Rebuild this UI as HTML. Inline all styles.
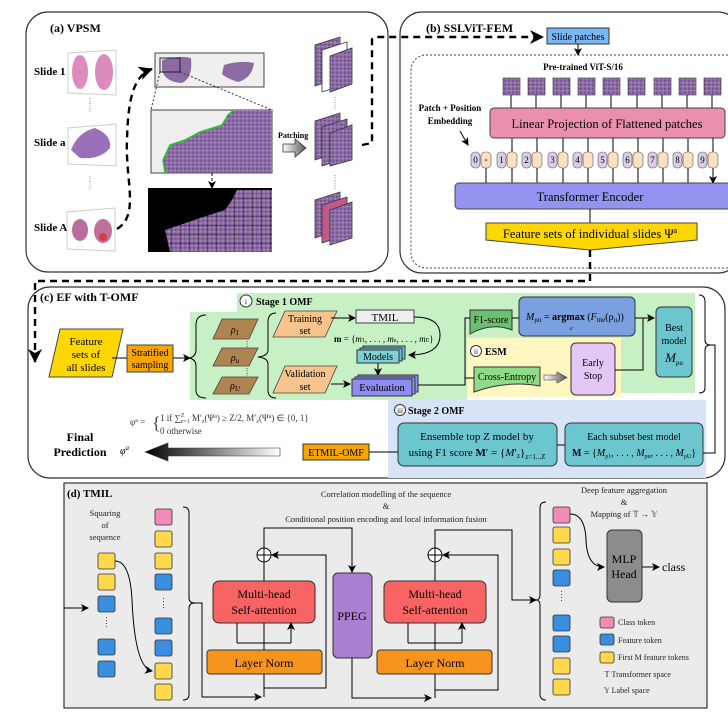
<!DOCTYPE html>
<html><head><meta charset="utf-8"><style>
html,body{margin:0;padding:0;background:#fff;}
svg{display:block;font-family:"Liberation Serif",serif;}
</style></head><body>
<svg width="728" height="715" viewBox="0 0 728 715" xmlns="http://www.w3.org/2000/svg">
<defs>
<marker id="ah" markerWidth="8" markerHeight="8" refX="7" refY="4" orient="auto" markerUnits="userSpaceOnUse"><path d="M0,0 L8,4 L0,8 L2,4z" fill="#000"/></marker>
<marker id="ahb" markerWidth="14" markerHeight="14" refX="13" refY="7" orient="auto" markerUnits="userSpaceOnUse"><path d="M0,0 L14,7 L0,14 L4,7z" fill="#000"/></marker>
<pattern id="tis" width="4" height="4" patternUnits="userSpaceOnUse"><rect width="4" height="4" fill="#8c6aa4"/><rect x="0" y="0" width="1.5" height="1.5" fill="#6a4a88"/><rect x="2.5" y="2" width="1.2" height="1.2" fill="#b49cc8"/></pattern>
<pattern id="grid" width="9" height="9" patternUnits="userSpaceOnUse"><rect width="9" height="9" fill="url(#tis)"/><path d="M0,0H9M0,0V9" stroke="#222" stroke-width="0.8"/></pattern>
<linearGradient id="bg" x1="0" x2="1"><stop offset="0" stop-color="#000"/><stop offset="1" stop-color="#fff"/></linearGradient>
<linearGradient id="gg" x1="0" x2="1"><stop offset="0" stop-color="#fff"/><stop offset="1" stop-color="#555"/></linearGradient>
</defs>

<!-- Panel (a) -->
<rect x="26" y="12" width="362" height="260" rx="22" fill="none" stroke="#333" stroke-width="1.2"/>
<text x="50" y="32" font-size="12" font-weight="bold">(a) VPSM</text>
<g font-size="11" font-weight="bold">
<text x="34" y="75">Slide 1</text><text x="34" y="146">Slide a</text><text x="34" y="231">Slide A</text></g>
<polygon points="68,53 116,50 116,95 68,93" fill="#fff" stroke="#ccc"/>
<ellipse cx="80" cy="72" rx="8" ry="17" fill="#dc8cbc"/><ellipse cx="104" cy="72" rx="9" ry="18" fill="#dc8cbc"/>
<polygon points="68,128 116,124 116,166 68,164" fill="#fff" stroke="#ccc"/>
<path d="M71,150 Q78,132 95,128 Q112,135 110,148 Q100,160 80,158z" fill="#9c70b8"/>
<polygon points="67,212 115,208 115,251 67,249" fill="#fff" stroke="#ccc"/>
<ellipse cx="80" cy="230" rx="8" ry="11" fill="#b86ca0"/><ellipse cx="103" cy="231" rx="9" ry="12" fill="#c0709a"/><circle cx="103" cy="237" r="4" fill="#d04040"/>
<path d="M90,98V112M90,176V190" stroke="#888" stroke-dasharray="1,1.5"/>
<path d="M117,229 C140,215 125,180 127,140 C128,95 135,75 152,69" fill="none" stroke="#000" stroke-width="2.4" stroke-dasharray="7,5" marker-end="url(#ahb)"/>
<rect x="155" y="53" width="109" height="34" fill="#efefef" stroke="#444"/>
<path d="M162,60 Q180,55 191,58 Q193,78 182,83 Q165,82 162,70z" fill="#8c6aa4"/>
<path d="M224,65 Q240,60 254,63 Q252,78 238,82 Q226,78 222,74z" fill="#8c6aa4"/>
<rect x="160" y="58" width="20" height="14" fill="none" stroke="#222"/>
<path d="M160,72 L151,110 M180,72 L272,110" stroke="#333" stroke-dasharray="2,2" fill="none"/>
<rect x="151" y="110" width="121" height="63" fill="#eee" stroke="#444"/>
<path d="M234,110 L272,110 L272,173 L165,173 L163,160 L170,145 L185,140 L200,132 L222,125 L228,115z" fill="url(#tis)"/>
<path d="M234,110 L228,115 L222,125 L200,132 L185,140 L170,145 L163,160 L165,173" fill="none" stroke="#22cc22" stroke-width="1.5"/>
<path d="M212,173V188" stroke="#000" stroke-dasharray="3,2" marker-end="url(#ah)"/>
<rect x="148" y="188" width="124" height="64" fill="#000"/>
<path d="M237,190 L272,190 L272,252 L170,252 L165,230 L180,225 L200,218 L225,210 L232,200z" fill="url(#grid)"/>
<text x="278" y="138" font-size="8" font-weight="bold">Patching</text>
<polygon points="283,144 295,144 295,139 306,148 295,157 295,152 283,152" fill="url(#gg)" stroke="#333" stroke-width="0.8"/>
<g stroke="#333" stroke-width="0.8">
<polygon points="315,45 340,37 340,78 315,86" fill="url(#tis)"/><polygon points="322,50 347,42 347,84 322,92" fill="#fff"/><polygon points="330,56 352,48 352,84 330,92" fill="url(#tis)"/>
<polygon points="315,121 340,113 340,152 315,160" fill="url(#tis)"/><polygon points="322,127 347,119 347,158 322,166" fill="url(#tis)"/><polygon points="330,133 352,125 352,160 330,166" fill="url(#tis)"/>
<polygon points="315,200 340,192 340,230 315,238" fill="url(#tis)"/><polygon points="322,205 347,197 347,235 322,243" fill="#c05a8a"/><polygon points="330,210 352,202 352,238 330,245" fill="url(#tis)"/>
</g>
<path d="M335,97V110M335,175V190" stroke="#888" stroke-dasharray="1,1.5"/>
<path d="M362,145 L372,143 L372,40 Q372,37 376,37 L543,37" fill="none" stroke="#000" stroke-width="2.4" stroke-dasharray="7,5" marker-end="url(#ahb)"/>

<!-- Panel (b) -->
<rect x="400" y="12" width="340" height="261" rx="22" fill="none" stroke="#333" stroke-width="1.2"/>
<text x="426" y="32" font-size="12" font-weight="bold">(b) SSLViT-FEM</text>
<rect x="547" y="28" width="62" height="16" fill="#7ab8f5" stroke="#333"/>
<text x="578" y="40" font-size="10" text-anchor="middle">Slide patches</text>
<path d="M578,44V55" stroke="#000" marker-end="url(#ah)"/>
<rect x="411" y="55" width="330" height="213" rx="15" fill="none" stroke="#444" stroke-dasharray="2,2"/>
<text x="583" y="70" font-size="9" font-weight="bold" text-anchor="middle">Pre-trained ViT-S/16</text>
<g stroke="#333" stroke-width="0.6">
<rect x="503" y="78" width="17" height="17" fill="url(#tis)"/><rect x="528" y="78" width="17" height="17" fill="url(#tis)"/><rect x="553" y="78" width="17" height="17" fill="url(#tis)"/><rect x="578" y="78" width="17" height="17" fill="url(#tis)"/><rect x="603" y="78" width="17" height="17" fill="url(#tis)"/><rect x="628" y="78" width="17" height="17" fill="url(#tis)"/><rect x="654" y="78" width="17" height="17" fill="url(#tis)"/><rect x="679" y="78" width="17" height="17" fill="url(#tis)"/><rect x="704" y="78" width="17" height="17" fill="url(#tis)"/>
</g>
<path d="M511,95V108M536,95V108M561,95V108M586,95V108M611,95V108M637,95V108M662,95V108M687,95V108M712,95V108" stroke="#000"/>
<rect x="490" y="108" width="235" height="30" rx="4" fill="#ea8fb0" stroke="#444"/>
<text x="607" y="128" font-size="12.5" text-anchor="middle">Linear Projection of Flattened patches</text>
<text x="450" y="111" font-size="9" font-weight="bold" text-anchor="middle">Patch + Position</text>
<text x="450" y="124" font-size="9" font-weight="bold" text-anchor="middle">Embedding</text>
<path d="M460,131 L468,145" stroke="#000" marker-end="url(#ah)"/>
<path d="M512,138V152M537,138V152M563,138V152M588,138V152M613,138V152M638,138V152M663,138V152M688,138V152M713,138V152" stroke="#000"/>
<g font-size="9" stroke="#555" stroke-width="0.6">
<rect x="471" y="152" width="9" height="16" rx="4" fill="#d9cde6"/><rect x="481" y="152" width="10" height="16" rx="4" fill="#fde0c0"/>
<rect x="497" y="152" width="9" height="16" rx="4" fill="#d9cde6"/><rect x="507" y="152" width="10" height="16" rx="4" fill="#fde0c0"/>
<rect x="522" y="152" width="9" height="16" rx="4" fill="#d9cde6"/><rect x="532" y="152" width="10" height="16" rx="4" fill="#fde0c0"/>
<rect x="548" y="152" width="9" height="16" rx="4" fill="#d9cde6"/><rect x="558" y="152" width="10" height="16" rx="4" fill="#fde0c0"/>
<rect x="573" y="152" width="9" height="16" rx="4" fill="#d9cde6"/><rect x="583" y="152" width="10" height="16" rx="4" fill="#fde0c0"/>
<rect x="598" y="152" width="9" height="16" rx="4" fill="#d9cde6"/><rect x="608" y="152" width="10" height="16" rx="4" fill="#fde0c0"/>
<rect x="623" y="152" width="9" height="16" rx="4" fill="#d9cde6"/><rect x="633" y="152" width="10" height="16" rx="4" fill="#fde0c0"/>
<rect x="648" y="152" width="9" height="16" rx="4" fill="#d9cde6"/><rect x="658" y="152" width="10" height="16" rx="4" fill="#fde0c0"/>
<rect x="673" y="152" width="9" height="16" rx="4" fill="#d9cde6"/><rect x="683" y="152" width="10" height="16" rx="4" fill="#fde0c0"/>
<rect x="698" y="152" width="9" height="16" rx="4" fill="#d9cde6"/><rect x="708" y="152" width="10" height="16" rx="4" fill="#fde0c0"/>
</g>
<g font-size="9" text-anchor="middle">
<text x="475.5" y="163">0</text><text x="486" y="163" font-size="6">*</text><text x="501.5" y="163">1</text><text x="526.5" y="163">2</text><text x="552.5" y="163">3</text><text x="577.5" y="163">4</text><text x="602.5" y="163">5</text><text x="627.5" y="163">6</text><text x="652.5" y="163">7</text><text x="677.5" y="163">8</text><text x="702.5" y="163">9</text></g>
<path d="M486,168V183M512,168V183M537,168V183M563,168V183M588,168V183M613,168V183M638,168V183M663,168V183M688,168V183M713,168V183" stroke="#000" marker-end="url(#ah)"/>
<rect x="455" y="183" width="280" height="26" rx="4" fill="#9494f0" stroke="#444"/>
<text x="590" y="201" font-size="12.5" text-anchor="middle">Transformer Encoder</text>
<path d="M590,209V224" stroke="#000"/>
<polygon points="486,223 697,223 697,240 590,250 486,240" fill="#ffd700" stroke="#444"/>
<text x="590" y="238" font-size="12.5" text-anchor="middle">Feature sets of individual slides Ψ<tspan font-size="8" dy="-5">a</tspan></text>
<path d="M590,250 V281 H35 V362" fill="none" stroke="#000" stroke-width="2.4" stroke-dasharray="7,5" marker-end="url(#ahb)"/>

<!-- Panel (c) -->
<rect x="28" y="287" width="697" height="191" rx="22" fill="none" stroke="#333" stroke-width="1.2"/>
<polygon points="190,312 237,312 237,293 695,293 695,393 621,393 621,338 467,338 467,400 190,400" fill="#c7f0c5"/>
<rect x="467" y="338" width="154" height="59" fill="#fff6c2"/>
<rect x="388" y="400" width="318" height="78" fill="#d7e4f8"/>
<text x="40" y="301" font-size="12" font-weight="bold">(c) EF with T-OMF</text>
<circle cx="246" cy="301" r="6" fill="#fff" stroke="#333"/><text x="246" y="304" font-size="7" text-anchor="middle">i</text>
<text x="256" y="305" font-size="10" font-weight="bold">Stage 1 OMF</text>
<polygon points="60,329 123,329 112,377 49,377" fill="#ffd700" stroke="#444"/>
<g font-size="11" text-anchor="middle"><text x="86" y="345">Feature</text><text x="86" y="358">sets of</text><text x="86" y="371">all slides</text></g>
<path d="M112,358H127" stroke="#000"/>
<rect x="127" y="345" width="46" height="27" fill="#f7a500" stroke="#444"/>
<g font-size="10" text-anchor="middle"><text x="150" y="356">Stratified</text><text x="150" y="368">sampling</text></g>
<path d="M173,358H190" stroke="#000" marker-end="url(#ah)"/>
<path d="M206,315 Q196,315 196,325 V350 Q196,356 190,358 Q196,360 196,366 V390 Q196,398 206,398" fill="none" stroke="#000"/>
<g fill="#b08450" stroke="#444" stroke-width="0.8">
<polygon points="222,319 258,319 249,339 213,339"/><polygon points="222,348 258,348 249,366 213,366"/><polygon points="222,377 258,377 249,394 213,394"/></g>
<g font-size="10" font-style="italic" text-anchor="middle"><text x="235" y="333">ρ<tspan font-size="7" dy="2">1</tspan></text><text x="235" y="361">ρ<tspan font-size="7" dy="2">u</tspan></text><text x="235" y="389">ρ<tspan font-size="7" dy="2">U</tspan></text></g>
<path d="M247,341V347M247,368V376" stroke="#444" stroke-dasharray="1,1.5"/>
<path d="M276,313 Q268,313 268,322 V350 Q268,356 258,357 Q268,358 268,364 V390 Q268,398 276,398" fill="none" stroke="#000"/>
<g fill="#f7c48c" stroke="#444" stroke-width="0.8">
<polygon points="285,311 337,311 325,337 273,337"/><polygon points="285,366 337,366 325,393 273,393"/></g>
<g font-size="10" text-anchor="middle"><text x="305" y="322">Training</text><text x="305" y="334">set</text><text x="305" y="377">Validation</text><text x="305" y="390">set</text></g>
<path d="M331,318H355" stroke="#000" marker-end="url(#ah)"/>
<rect x="356" y="310" width="58" height="13" fill="#eee" stroke="#444"/>
<text x="385" y="321" font-size="11" text-anchor="middle">TMIL</text>
<text x="334" y="342" font-size="9"><tspan font-weight="bold">m</tspan> = {<tspan font-style="italic">m</tspan><tspan font-size="6">1</tspan>, . . . , <tspan font-style="italic">m</tspan><tspan font-size="6">e</tspan>, . . . , <tspan font-style="italic">m</tspan><tspan font-size="6">E</tspan>}</text>
<path d="M414,317 Q440,317 440,335 Q440,355 409,355" fill="none" stroke="#000" marker-end="url(#ah)"/>
<rect x="363" y="346" width="42" height="13" fill="#6cc6d0" stroke="#333"/><rect x="360" y="348" width="42" height="13" fill="#6cc6d0" stroke="#333"/><rect x="357" y="350" width="42" height="13" fill="#7fd0d8" stroke="#333"/>
<text x="378" y="360" font-size="10" text-anchor="middle">Models</text>
<path d="M378,363V375" stroke="#000" marker-end="url(#ah)"/>
<path d="M331,384H350" stroke="#000" marker-end="url(#ah)"/>
<rect x="358" y="375" width="60" height="17" fill="#8f8ff5" stroke="#333"/><rect x="355" y="377" width="60" height="17" fill="#8f8ff5" stroke="#333"/><rect x="352" y="379" width="60" height="17" fill="#8c8cf2" stroke="#333"/>
<text x="382" y="391" font-size="10.5" text-anchor="middle">Evaluation</text>
<path d="M418,385 H465 V318 H470 M465,385 V378 H474" fill="none" stroke="#000"/>
<path d="M470,310 H512 V330 Q491,322 470,334z" fill="#6fbf72" stroke="#333"/>
<text x="491" y="323" font-size="10" text-anchor="middle">F1-score</text>
<path d="M512,318H519" stroke="#000"/>
<rect x="519" y="297" width="116" height="39" rx="5" fill="#7aa0e0" stroke="#333"/>
<text x="526" y="320" font-size="10"><tspan font-style="italic">M</tspan><tspan font-size="7" dy="2">ρu</tspan><tspan dy="-2"> = </tspan><tspan font-weight="bold">argmax</tspan> (<tspan font-style="italic">F</tspan><tspan font-size="7" dy="2">me</tspan><tspan dy="-2">(ρ</tspan><tspan font-size="7" dy="2">u</tspan><tspan dy="-2">))</tspan></text>
<text x="570" y="330" font-size="6" font-style="italic">e</text>
<path d="M635,318H654" stroke="#000" marker-end="url(#ah)"/>
<rect x="656" y="307" width="36" height="70" rx="5" fill="#6cc6d0" stroke="#333"/>
<g font-size="10" text-anchor="middle"><text x="674" y="331">Best</text><text x="674" y="344">model</text><text x="674" y="362" font-size="13" font-style="italic">M<tspan font-size="7" dy="3">ρu</tspan></text></g>
<circle cx="476" cy="351" r="5.5" fill="#fff" stroke="#333"/><text x="476" y="354" font-size="7" text-anchor="middle">ii</text>
<text x="485" y="355" font-size="10" font-weight="bold">ESM</text>
<path d="M474,367 H540 V386 Q507,380 474,392z" fill="#8edc8a" stroke="#333"/>
<text x="507" y="380" font-size="10" text-anchor="middle">Cross-Entropy</text>
<polygon points="544,375 557,375 557,372 567,377.5 557,383 557,380 544,380" fill="url(#gg)" stroke="#333" stroke-width="0.6"/>
<rect x="571" y="343" width="44" height="52" rx="5" fill="#e3c8f5" stroke="#333"/>
<g font-size="10" text-anchor="middle"><text x="593" y="366">Early</text><text x="593" y="379">Stop</text></g>
<path d="M615,370 H643 V318" fill="none" stroke="#000"/>
<path d="M699,295 Q705,295 705,302 V340 Q705,345 711,345 Q705,345 705,350 V388 Q705,393 699,393" fill="none" stroke="#000"/>
<path d="M711,345 H715 V453 H703" fill="none" stroke="#000"/>
<circle cx="400" cy="410" r="5.5" fill="#fff" stroke="#333"/><text x="400" y="413" font-size="7" text-anchor="middle">iii</text>
<text x="408" y="414" font-size="10" font-weight="bold">Stage 2 OMF</text>
<rect x="398" y="423" width="159" height="43" rx="6" fill="#6cc6d0" stroke="#333"/>
<g font-size="11" text-anchor="middle"><text x="477" y="440">Ensemble top Z model by</text><text x="477" y="456">using F1 score <tspan font-weight="bold">M</tspan>′ = {<tspan font-style="italic">M</tspan>′<tspan font-size="7" dy="2">z</tspan><tspan dy="-2">}</tspan><tspan font-size="7" dy="3">z=1...Z</tspan></text></g>
<path d="M565,445H557" stroke="#000"/>
<rect x="565" y="423" width="138" height="43" rx="6" fill="#6cc6d0" stroke="#333"/>
<g font-size="10" text-anchor="middle"><text x="634" y="440">Each subset best model</text><text x="634" y="456"><tspan font-weight="bold">M</tspan> = {<tspan font-style="italic">M</tspan><tspan font-size="6" dy="2">ρ1</tspan><tspan dy="-2">, . . . , </tspan><tspan font-style="italic">M</tspan><tspan font-size="6" dy="2">ρu</tspan><tspan dy="-2">, . . . , </tspan><tspan font-style="italic">M</tspan><tspan font-size="6" dy="2">ρU</tspan><tspan dy="-2">}</tspan></text></g>
<path d="M369,452H398" stroke="#000"/>
<rect x="303" y="444" width="66" height="16" fill="#f7a500" stroke="#333"/>
<text x="336" y="456" font-size="10" text-anchor="middle">ETMIL-OMF</text>
<polygon points="280,448 168,448 168,443 145,452 168,461 168,456 280,456" fill="url(#bg)" stroke="#333" stroke-width="0.6"/>
<g font-size="12" font-weight="bold" text-anchor="middle"><text x="80" y="441">Final</text><text x="80" y="456">Prediction</text></g>
<text x="120" y="454" font-size="10" font-style="italic">φ<tspan font-size="7" dy="-4">a</tspan></text>
<g font-size="9" fill="#333"><text x="130" y="425">φ<tspan font-size="6" dy="-3">a</tspan><tspan dy="3"> =</tspan></text>
<text x="152" y="429" font-size="18" fill="#444">{</text>
<text x="160" y="421">1   if ∑<tspan font-size="6" dy="-4">Z</tspan><tspan font-size="6" dy="6" dx="-4">z=1</tspan><tspan dy="-2"> M′</tspan><tspan font-size="6" dy="2">z</tspan><tspan dy="-2">(Ψ</tspan><tspan font-size="6" dy="-3">a</tspan><tspan dy="3">) ≥ Z/2, M′</tspan><tspan font-size="6" dy="2">z</tspan><tspan dy="-2">(Ψ</tspan><tspan font-size="6" dy="-3">a</tspan><tspan dy="3">) ∈ {0, 1}</tspan></text>
<text x="160" y="434">0   otherwise</text></g>

<!-- Panel (d) -->
<rect x="64" y="483" width="643" height="225" fill="#ebebeb" stroke="#333" stroke-width="1.2"/>
<text x="67" y="497" font-size="11" font-weight="bold">(d) TMIL</text>
<g font-size="8.5" text-anchor="middle" fill="#222"><text x="105" y="516">Squaring</text><text x="105" y="528">of</text><text x="105" y="540">sequence</text>
<text x="386" y="497">Correlation modelling of the sequence</text><text x="386" y="509">&amp;</text><text x="386" y="522">Conditional position encoding and local information fusion</text>
<text x="624" y="493">Deep feature aggregation</text><text x="624" y="505">&amp;</text><text x="624" y="517">Mapping of 𝕋 → 𝕐</text></g>
<path d="M64,608H88" stroke="#000" marker-end="url(#ah)"/>
<g stroke="#333" stroke-width="0.8">
<rect x="98" y="553" width="17" height="16" rx="2" fill="#ffd84d"/><rect x="98" y="574" width="17" height="16" rx="2" fill="#ffd84d"/><rect x="98" y="596" width="17" height="16" rx="2" fill="#3a8ee0"/><rect x="98" y="639" width="17" height="16" rx="2" fill="#3a8ee0"/><rect x="98" y="661" width="17" height="16" rx="2" fill="#3a8ee0"/>
<rect x="155" y="509" width="17" height="16" rx="2" fill="#f08cb8"/><rect x="155" y="531" width="17" height="16" rx="2" fill="#ffd84d"/><rect x="155" y="553" width="17" height="16" rx="2" fill="#ffd84d"/><rect x="155" y="574" width="17" height="16" rx="2" fill="#3a8ee0"/><rect x="155" y="618" width="17" height="16" rx="2" fill="#3a8ee0"/><rect x="155" y="640" width="17" height="16" rx="2" fill="#3a8ee0"/><rect x="155" y="663" width="17" height="16" rx="2" fill="#ffd84d"/><rect x="155" y="684" width="17" height="16" rx="2" fill="#ffd84d"/>
<rect x="553" y="507" width="17" height="16" rx="2" fill="#f08cb8"/><rect x="553" y="527" width="17" height="16" rx="2" fill="#ffd84d"/><rect x="553" y="549" width="17" height="16" rx="2" fill="#ffd84d"/><rect x="553" y="570" width="17" height="16" rx="2" fill="#3a8ee0"/><rect x="553" y="615" width="17" height="16" rx="2" fill="#3a8ee0"/><rect x="553" y="636" width="17" height="16" rx="2" fill="#3a8ee0"/><rect x="553" y="658" width="17" height="16" rx="2" fill="#ffd84d"/><rect x="553" y="679" width="17" height="16" rx="2" fill="#ffd84d"/>
<rect x="600" y="617" width="14" height="11" rx="2" fill="#f08cb8"/><rect x="600" y="634" width="14" height="11" rx="2" fill="#3a8ee0"/><rect x="600" y="652" width="14" height="11" rx="2" fill="#ffd84d"/>
</g>
<path d="M106.5,617V627M163.5,598V610M561.5,591V603" stroke="#444" stroke-dasharray="1,2"/>
<g font-size="8" fill="#222"><text x="618" y="625">Class token</text><text x="618" y="643">Feature token</text><text x="618" y="660">First M feature tokens</text><text x="604" y="677">𝕋  Transformer space</text><text x="604" y="693">𝕐  Label space</text></g>
<path d="M115,561 Q130,561 132,600 Q135,668 152,671" fill="none" stroke="#000" marker-end="url(#ah)"/>
<path d="M183,507 Q189,507 189,513 V598 Q189,603 195,603 Q189,603 189,608 V694 Q189,700 183,700" fill="none" stroke="#000"/>
<path d="M195,603 H202 V697 H261" fill="none" stroke="#000" marker-end="url(#ah)"/>
<!-- block 1 -->
<rect x="213" y="581" width="102" height="42" rx="6" fill="#f86464" stroke="#333"/>
<g font-size="12" text-anchor="middle"><text x="264" y="598">Multi-head</text><text x="264" y="614">Self-attention</text></g>
<rect x="207" y="650" width="115" height="24" rx="3" fill="#f7941d" stroke="#333"/>
<text x="264" y="667" font-size="12" text-anchor="middle">Layer Norm</text>
<path d="M264,650V625 M237,643V625 M291,643V625 M237,643H291" fill="none" stroke="#000"/>
<path d="M237,633V623 M264,633V623 M291,633V623" stroke="#000" marker-end="url(#ah)"/>
<path d="M264,674V697" stroke="#000"/>
<path d="M264,688 H326 V555 H272" fill="none" stroke="#000" marker-end="url(#ah)"/>
<circle cx="264" cy="555" r="7" fill="#fff" stroke="#000"/><path d="M257,555H271M264,548V562" stroke="#000"/>
<path d="M264,581V562 M264,548V528 H352 V572" fill="none" stroke="#000" marker-end="url(#ah)"/>
<rect x="333" y="573" width="39" height="85" rx="5" fill="#a97fcf" stroke="#333"/>
<text x="352" y="620" font-size="12" text-anchor="middle">PPEG</text>
<path d="M352,658 V698 H431" fill="none" stroke="#000" marker-end="url(#ah)"/>
<!-- block 2 -->
<rect x="384" y="581" width="102" height="42" rx="6" fill="#f86464" stroke="#333"/>
<g font-size="12" text-anchor="middle"><text x="435" y="598">Multi-head</text><text x="435" y="614">Self-attention</text></g>
<rect x="377" y="650" width="115" height="24" rx="3" fill="#f7941d" stroke="#333"/>
<text x="435" y="667" font-size="12" text-anchor="middle">Layer Norm</text>
<path d="M435,650V625 M408,643V625 M462,643V625 M408,643H462" fill="none" stroke="#000"/>
<path d="M408,633V623 M435,633V623 M462,633V623" stroke="#000" marker-end="url(#ah)"/>
<path d="M435,674V698" stroke="#000"/>
<path d="M435,690 H498 V555 H443" fill="none" stroke="#000" marker-end="url(#ah)"/>
<circle cx="435" cy="555" r="7" fill="#fff" stroke="#000"/><path d="M428,555H442M435,548V562" stroke="#000"/>
<path d="M435,581V562 M435,548V530 H512 V600 H536" fill="none" stroke="#000" marker-end="url(#ah)"/>
<path d="M546,502 Q540,502 540,508 V595 Q540,600 536,600 Q540,600 540,605 V694 Q540,700 546,700" fill="none" stroke="#000"/>
<path d="M570,514 Q585,514 586,540 Q587,567 604,567" fill="none" stroke="#000" marker-end="url(#ah)"/>
<rect x="607" y="530" width="35" height="72" rx="5" fill="#8c8c8c" stroke="#333"/>
<g font-size="12" text-anchor="middle"><text x="624" y="563">MLP</text><text x="624" y="578">Head</text></g>
<path d="M642,567H659" stroke="#000" marker-end="url(#ah)"/>
<text x="662" y="571" font-size="12">class</text>
</svg>
</body></html>
